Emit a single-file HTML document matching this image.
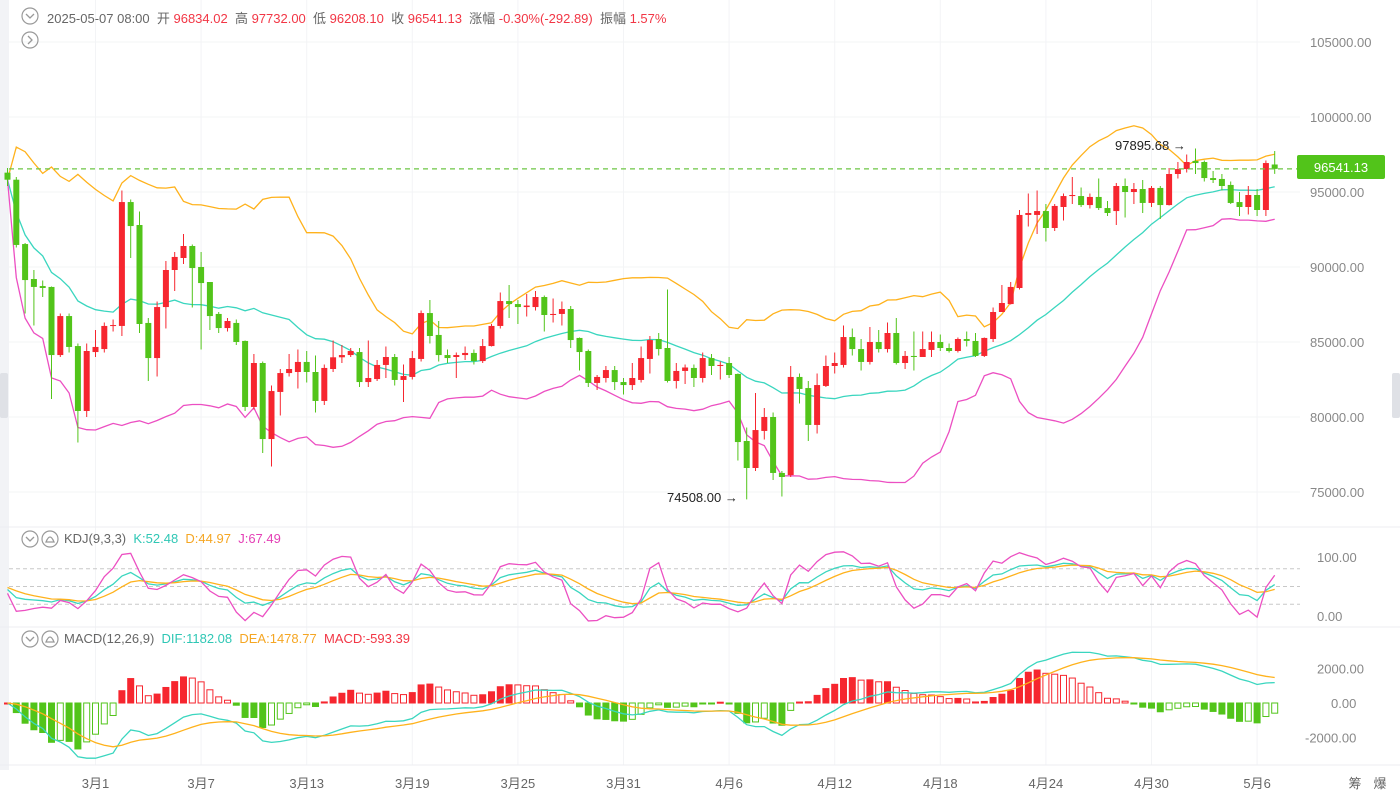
<!DOCTYPE html>
<html><head><meta charset="utf-8">
<style>
body{margin:0;background:#fff;width:1400px;height:798px;overflow:hidden;font-family:"Liberation Sans","Noto Sans CJK SC",sans-serif;}
#wrap{position:relative;width:1400px;height:798px;}
svg{position:absolute;left:0;top:0;}
.hdr{position:absolute;font-size:13px;color:#666;white-space:nowrap;}
.hdr span.v{color:#f23645;}
</style></head>
<body><div id="wrap">
<svg id="svg" width="1400" height="798"></svg>
<div class="hdr" style="left:47px;top:8px">2025-05-07 08:00&nbsp; 开 <span class="v">96834.02</span>&nbsp; 高 <span class="v">97732.00</span>&nbsp; 低 <span class="v">96208.10</span>&nbsp; 收 <span class="v">96541.13</span>&nbsp; 涨幅 <span class="v">-0.30%(-292.89)</span>&nbsp; 振幅 <span class="v">1.57%</span></div>
<div class="hdr" style="left:64px;top:531px">KDJ(9,3,3)&nbsp; <span style="color:#2fc7b5">K:52.48</span>&nbsp; <span style="color:#f5a623">D:44.97</span>&nbsp; <span style="color:#e440b6">J:67.49</span></div>
<div class="hdr" style="left:64px;top:631px">MACD(12,26,9)&nbsp; <span style="color:#2fc7b5">DIF:1182.08</span>&nbsp; <span style="color:#f5a623">DEA:1478.77</span>&nbsp; <span style="color:#f23645">MACD:-593.39</span></div>
</div>
<script>
const O=[96290,95820,91530,89200,88730,88670,84130,86730,84730,80400,84330,84530,86070,86070,94330,92800,86270,83930,87330,89800,90600,91400,90000,89000,86870,85930,86270,85070,80670,83600,78530,81670,82930,83000,83670,83000,81070,83200,83980,84130,84330,82330,82530,83470,84000,82470,82670,83870,86930,85470,84130,84000,84130,84270,83730,84730,86070,87730,87530,87330,87330,88000,86800,86870,87200,85270,84400,82270,82600,83130,82330,82130,82470,83870,85200,84600,82400,83070,83270,82600,83930,83400,83600,82870,78400,76600,79070,80000,76270,76130,82670,81930,79470,82070,83400,83470,85330,84530,83670,85000,84530,85600,83600,84070,84000,84470,85000,84600,84400,85200,85070,84070,85200,87000,87530,88600,93470,93470,93730,92600,94000,94730,94730,94130,94670,93930,93730,95400,95000,95200,94270,95270,94130,96200,96530,97070,97000,95930,95870,95470,94330,94000,94800,93800,96834];
const C=[95820,91470,89130,88670,88600,84130,86730,84670,80400,84400,84670,86070,86130,94330,92730,86200,83930,87330,89800,90670,91400,89930,88930,86730,85930,86400,85000,80670,83600,78530,81730,82930,83200,83670,83000,81070,83270,83980,84130,84400,82330,82600,83470,84000,82470,82730,83930,86930,85400,84130,83930,84130,84270,83730,84730,86070,87730,87530,87330,87430,88000,86800,86870,87200,85130,84330,82270,82670,83130,82330,82130,82600,83930,85130,84530,82400,83070,83300,82600,83930,83400,83470,82800,78330,76600,79130,80000,76270,76000,82670,81870,79470,82130,83400,83600,85330,84530,83670,85000,84530,85600,83600,84070,84000,84530,85000,84600,84400,85200,85070,84070,85270,87000,87600,88670,93470,93600,93730,92600,94070,94730,94800,94130,94670,93930,93600,95400,95000,95200,94270,95270,94130,96200,96530,97000,96930,95930,95800,95400,94270,94000,94800,93800,96930,96541];
const H=[96600,96000,91600,89800,89100,88700,86900,86900,84900,84900,85800,86300,86500,95100,94500,93700,86600,87700,90400,91000,92200,91500,91000,89000,87000,86600,86500,85100,84200,83700,82100,83200,84200,84500,84400,84100,83500,85100,84800,84600,84600,85100,83800,84700,84200,83500,84400,87100,87800,86400,84500,84300,84700,84500,85200,86200,88300,88800,87800,88200,88400,88100,87900,87700,87400,85300,84500,82800,83400,83400,82600,83600,84700,85400,85600,88500,83600,83500,83500,84300,84200,83700,84000,82900,79300,81600,80600,80300,76400,83400,82900,82400,82900,84100,84300,86100,85900,85200,86000,85800,86300,86600,84400,85700,85700,85700,85500,84900,85300,85700,85600,85300,87300,88800,89000,93800,94900,95100,94200,94200,94900,96000,95300,94900,95900,94400,95600,95900,95600,95800,95400,95400,96600,97000,97500,97896,97100,96400,96200,95700,95000,95400,95200,97100,97732];
const L=[95400,91300,86900,86100,88000,81200,84000,84300,78300,80000,84000,84300,85700,85400,90600,85600,82400,82700,85900,88400,90200,87300,84500,85800,85600,85700,84800,80400,80500,77600,76700,80100,82700,81900,82300,80300,80800,83000,83600,84000,82000,82000,82400,82600,82100,81000,82500,83700,84900,83700,83600,82600,83800,83500,83600,84700,85900,86600,86200,86700,87100,85700,86300,86100,84600,83100,82000,81800,82300,81800,81500,81800,82300,82900,84100,82300,81900,82200,82000,82300,82800,82500,82600,77100,74508,76400,78500,75800,74700,76000,80900,78400,78900,82000,82900,83300,84100,83100,83500,84300,84300,83500,83200,83100,84300,84000,84400,84300,84300,84700,84000,84000,85000,87000,87500,88500,92700,92200,91700,92400,93100,94200,94000,93900,93800,93400,92800,93300,94200,93600,94000,93200,94100,95900,96300,96200,95700,95600,95100,94200,93400,93500,93400,93400,96208];
const priceTicks=[105000,100000,95000,90000,85000,80000,75000];
const kdjTicks=[100,0];
const macdTicks=[2000,0,-2000];
const dateLabels=["3月1","3月7","3月13","3月19","3月25","3月31","4月6","4月12","4月18","4月24","4月30","5月6"];
const dateIdx=[10,22,34,46,58,70,82,94,106,118,130,142];

const RED="#f6262f",GRN="#52c41a",ORG="#ffb21c",CY="#3ad6bf",PK="#ec4fc2";
const N=C.length,X0=7.5,DX=8.8;
const xs=i=>X0+i*DX;
const py=p=>42+(105000-p)*0.015;
const ky=v=>616-v*0.59;
const my=v=>703-v*0.01725;
const svg=document.getElementById('svg');
const NS="http://www.w3.org/2000/svg";
function mk(t,a){const e=document.createElementNS(NS,t);for(const k in a)e.setAttribute(k,a[k]);svg.appendChild(e);return e;}
function txt(s,x,y,col,anchor,size){const e=mk('text',{x:x,y:y,fill:col,'font-size':size||13,'text-anchor':anchor||'start','font-family':'Liberation Sans, Noto Sans CJK SC, sans-serif'});e.textContent=s;return e;}

// backgrounds & grid
let e=mk('rect',{x:0,y:0,width:9,height:770,fill:'#f2f3f6'});

priceTicks.forEach(p=>{let g=mk('line',{x1:9,x2:1300,y1:py(p),y2:py(p),stroke:'#f3f4f6'});
});
dateIdx.forEach(i=>{let g=mk('line',{x1:xs(i),x2:xs(i),y1:0,y2:765,stroke:'#f3f4f6'});
});
[527,627,765].forEach(y=>{let g=mk('line',{x1:0,x2:1400,y1:y,y2:y,stroke:'#eceef2'});
});
[80,50,20].forEach(v=>{let g=mk('line',{x1:9,x2:1300,y1:ky(v),y2:ky(v),stroke:'#c8c8c8','stroke-dasharray':'4,3'});
});

// indicators
const mid=[],up=[],lo=[];
for(let i=0;i<N;i++){const s=Math.max(0,i-19);const w=C.slice(s,i+1);const m=w.reduce((a,b)=>a+b,0)/w.length;
const sd=Math.sqrt(w.reduce((a,b)=>a+(b-m)*(b-m),0)/w.length);mid.push(m);up.push(m+2*sd);lo.push(m-2*sd);}
const K=[],D=[],J=[];let k=50,d=50;
for(let i=0;i<N;i++){const s=Math.max(0,i-8);const hh=Math.max(...H.slice(s,i+1)),ll=Math.min(...L.slice(s,i+1));
const rsv=hh>ll?(C[i]-ll)/(hh-ll)*100:50;k=2/3*k+rsv/3;d=2/3*d+k/3;K.push(k);D.push(d);J.push(3*k-2*d);}
const DIF=[],DEA=[],BAR=[];let e12=C[0],e26=C[0],de=0;
for(let i=0;i<N;i++){e12=e12*11/13+C[i]*2/13;e26=e26*25/27+C[i]*2/27;const df=e12-e26;de=de*0.8+df*0.2;DIF.push(df);DEA.push(de);BAR.push(2*(df-de));}

function line(arr,f,col,name){const pts=arr.map((v,i)=>xs(i).toFixed(1)+','+f(v).toFixed(1)).join(' ');
const p=mk('polyline',{points:pts,fill:'none',stroke:col,'stroke-width':1.3});
}
line(up,py,ORG,'boll-upper');line(mid,py,CY,'boll-mid');line(lo,py,PK,'boll-lower');

// candles
for(let i=0;i<N;i++){const x=xs(i),isUp=C[i]>=O[i],col=isUp?RED:GRN;
const w=mk('line',{x1:x,x2:x,y1:py(H[i]),y2:py(L[i]),stroke:col,'stroke-width':1});

const t=py(Math.max(O[i],C[i])),b=py(Math.min(O[i],C[i]));
const r=mk('rect',{x:x-3,y:t,width:6,height:Math.max(1,b-t),fill:col});
}

// current price line
e=mk('line',{x1:9,x2:1300,y1:py(96541),y2:py(96541),stroke:'#6cc644','stroke-width':1.3,'stroke-dasharray':'5,4'});

e=mk('rect',{x:1297,y:155,width:88,height:24,rx:2,fill:'#52c41a'});

e=txt('96541.13',1341,172,'#fff','middle',13);


// annotations
e=txt('74508.00 →',667,502,'#222','start',13);

e=txt('97895.68 →',1115,150,'#222','start',13);


// price axis
priceTicks.forEach(p=>{let t=txt(p.toFixed(2),1310,py(p)+5,'#888');
});
kdjTicks.forEach(v=>{let t=txt(v.toFixed(2),1317,ky(v)+5,'#888');
});
macdTicks.forEach(v=>{let t=txt(v.toFixed(2),v<0?1305:(v===0?1331:1317),my(v)+5,'#888');
});
dateIdx.forEach((ix,j)=>{let t=txt(dateLabels[j],xs(ix),788,'#666','middle');
});
e=txt('筹',1355,788,'#666','middle');
e=txt('爆',1380,788,'#666','middle');

// KDJ
line(K,ky,CY,'kdj-k-line');line(D,ky,ORG,'kdj-d-line');line(J,ky,PK,'kdj-j-line');

// MACD bars
for(let i=0;i<N;i++){const v=BAR[i],prev=i?BAR[i-1]:0,col=v>=0?RED:GRN;
const grow=v>=0?v>=prev:v<=prev;const y1=my(Math.max(v,0)),y2=my(Math.min(v,0));
const r=mk('rect',{x:xs(i)-3,y:y1,width:6,height:Math.max(1,y2-y1),fill:grow?col:'#fff',stroke:col,'stroke-width':1});
}
line(DIF,my,CY,'macd-dif-line');line(DEA,my,ORG,'macd-dea-line');

// icons
function circ(cx,cy,name,inner){const c=mk('circle',{cx:cx,cy:cy,r:8,fill:'none',stroke:'#999','stroke-width':1.2});

const p=mk('path',{d:inner,fill:'none',stroke:'#999','stroke-width':1.3});
}
circ(30,16,'collapse-toggle','M26 14 L30 18 L34 14');
circ(30,40,'expand-toggle','M28 36 L32 40 L28 44');
circ(30,539,'kdj-toggle','M26 537 L30 541 L34 537');
circ(50,539,'kdj-settings','M46 542 Q50 532 54 542 Z');
circ(30,639,'macd-toggle','M26 637 L30 641 L34 637');
circ(50,639,'macd-settings','M46 642 Q50 632 54 642 Z');
e=mk('rect',{x:0,y:373,width:8,height:45,rx:2,fill:'#dfe1e6'});
e=mk('rect',{x:1392,y:373,width:8,height:45,rx:2,fill:'#dfe1e6'});
</script></body></html>
